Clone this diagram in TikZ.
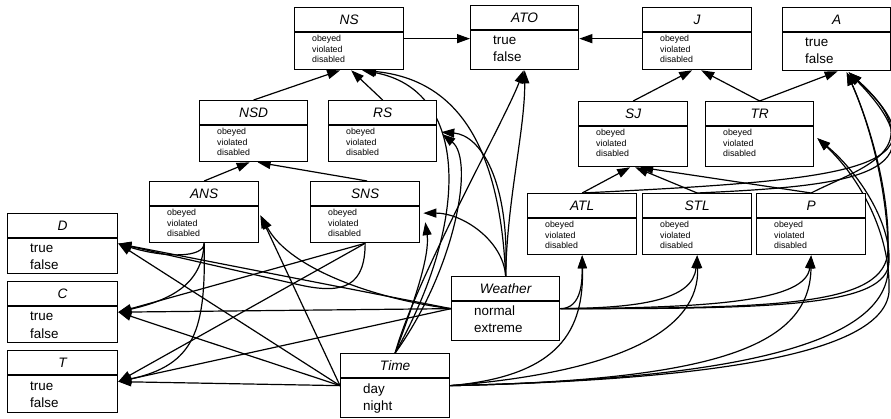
\documentclass[tikz,border=0pt]{standalone}
\usepackage{fontspec}
\setmainfont{Liberation Sans}
\usetikzlibrary{arrows.meta,calc}
\pgfdeclarelayer{background}
\pgfsetlayers{background,main}

\tikzset{
  vbox/.style={draw, line width=1.3pt, fill=white, inner sep=0pt, anchor=north west},
  sepline/.style={line width=1.3pt},
  titletext/.style={font=\fontsize{13.7}{16}\selectfont\itshape, inner sep=0pt, anchor=base},
  valtext/.style={font=\fontsize{13.4}{17}\selectfont, inner sep=0pt, anchor=base west},
  statetext/.style={font=\fontsize{8.8}{10.6}\selectfont, inner sep=0pt, anchor=base west},
  link/.style={line width=1.2pt, -{Triangle[length=13pt,width=9pt]}},
}

% variable with the three states obeyed / violated / disabled
% #1 name, #2 x, #3 y, #4 width, #5 height, #6 title
\newcommand\statebox[6]{%
  \node[vbox, minimum width=#4pt, minimum height=#5pt] (#1) at (#2,#3) {};
  \draw[sepline] ([yshift=-25pt]#1.north west) -- ([yshift=-25pt]#1.north east);
  \node[titletext] (#1-title) at ([yshift=-17.5pt]#1.north) {#6};
  \node[statetext] (#1-ob) at ([xshift=18pt,yshift=-34.5pt]#1.north west) {obeyed};
  \node[statetext] (#1-vi) at ([xshift=18pt,yshift=-45.1pt]#1.north west) {violated};
  \node[statetext] (#1-di) at ([xshift=18pt,yshift=-55.7pt]#1.north west) {disabled};
}
% variable with two values
% #1 name, #2 x, #3 y, #4 width, #5 height, #6 title, #7 #8 values
\newcommand\valuebox[8]{%
  \node[vbox, minimum width=#4pt, minimum height=#5pt] (#1) at (#2,#3) {};
  \draw[sepline] ([yshift=-25pt]#1.north west) -- ([yshift=-25pt]#1.north east);
  \node[titletext] (#1-title) at ([yshift=-17.5pt]#1.north) {#6};
  \node[valtext] (#1-va) at ([xshift=23pt,yshift=-40pt]#1.north west) {#7};
  \node[valtext] (#1-vb) at ([xshift=23pt,yshift=-57pt]#1.north west) {#8};
}

\begin{document}
\begin{tikzpicture}[x=1pt, y=-1pt]
\useasboundingbox (0,0) rectangle (891,419);

% top row
\statebox{NS}{294}{7}{109}{62}{NS}
\valuebox{ATO}{470}{5}{108}{64}{ATO}{true}{false}
\statebox{J}{642}{7}{109}{62}{J}
\valuebox{A}{782}{7}{108}{63}{A}{true}{false}
% second row
\statebox{NSD}{199}{100}{108}{61}{NSD}
\statebox{RS}{328}{100}{108}{61}{RS}
\statebox{SJ}{578}{101}{109}{65}{SJ}
\statebox{TR}{705}{101}{108}{65}{TR}
% third row
\statebox{ANS}{149}{181}{109}{61}{ANS}
\statebox{SNS}{310}{181}{109}{61}{SNS}
\statebox{ATL}{527}{193}{109}{61}{ATL}
\statebox{STL}{642}{193}{109}{61}{STL}
\statebox{P}{756}{193}{109}{61}{P}
% observations on the left
\valuebox{D}{7}{213}{110}{60}{D}{true}{false}
\valuebox{C}{7}{281}{110}{61}{C}{true}{false}
\valuebox{T}{7}{350}{110}{62}{T}{true}{false}
% context variables
\valuebox{Weather}{451}{276}{108}{64}{Weather}{normal}{extreme}
\valuebox{Time}{340}{353}{109}{64}{Time}{day}{night}

\begin{pgfonlayer}{background}
\fill[white] (0,0) rectangle (891,419);

% hierarchy of the rules
\draw[link] (NS.east) -- (NS.east -| ATO.west);
\draw[link] (J.west) -- (J.west -| ATO.east);
\draw[link] (NSD.north) -- ($(NS.south)+(-9,0)$);
\draw[link] (RS.north) -- ($(NS.south)+(2,0)$);
\draw[link] (ANS.north) -- ($(NSD.south)+(-4,0)$);
\draw[link] ($(SNS.north)+(2,0)$) -- ($(NSD.south)+(4,0)$);
\draw[link] (SJ.north) -- ($(J.south)+(-5,0)$);
\draw[link] (TR.north) -- ($(J.south)+(4,0)$);
\draw[link] (TR.north) -- ($(A.south)+(1,0)$);
\draw[link] (ATL.north) -- ($(SJ.south)+(-3,0)$);
\draw[link] (STL.north) -- ($(SJ.south)+(2,0)$);
\draw[link] (P.north) -- ($(SJ.south)+(7,0)$);

% ATL, STL, P into A round the right side
\draw[link] (ATL.north) .. controls (850,180) and (955,170) .. ($(A.south)+(12,1)$);
\draw[link] (STL.north) .. controls (850,186) and (950,176) .. ($(A.south)+(12,1)$);
\draw[link] (P.north) .. controls (860,168) and (935,150) .. ($(A.south)+(12,1)$);

% Weather and Time into A and TR along the right edge
\draw[link] (Weather.east) .. controls (780,308) and (886,306) .. (888,250)
  .. controls (890,190) and (868,120) .. ($(A.south)+(10,1)$);
\draw[link] (Weather.east) .. controls (780,309) and (887,306) .. (889,262)
  .. controls (891,222) and (858,172) .. ($(TR.east)+(3,4)$);
\draw[link] (Time.east) .. controls (700,380) and (881,352) .. (888,272)
  .. controls (891,195) and (868,120) .. ($(A.south)+(10,1)$);
\draw[link] (Time.east) .. controls (700,380) and (883,356) .. (889,292)
  .. controls (891,232) and (858,176) .. ($(TR.east)+(3,4)$);

% Weather and Time into ATL, STL, P
\draw[link] (Weather.east) to[out=0,in=-90] (ATL.south);
\draw[link] (Weather.east) .. controls (640,308) and (693,300) .. (STL.south);
\draw[link] (Weather.east) .. controls (720,308) and (806,300) .. (P.south);
\draw[link] (Time.east) .. controls (560,376) and (584,330) .. (ATL.south);
\draw[link] (Time.east) .. controls (620,372) and (700,330) .. (STL.south);
\draw[link] (Time.east) .. controls (720,380) and (810,345) .. (P.south);

% Weather and Time into the upper variables
\draw[link] (Weather.north) .. controls (507,200) and (525,130) .. (ATO.south);
\draw[link] (Time.north) .. controls (415,280) and (505,120) .. ($(ATO.south)+(-1,0)$);
\draw[link] (Weather.north) .. controls (500,150) and (460,80) .. ($(NS.south)+(14,0)$);
\draw[link] (Time.north) .. controls (470,220) and (470,90) .. ($(NS.south)+(13,0)$);
\draw[link] (Weather.north) .. controls (510,180) and (480,135) .. ($(RS.east)+(4,1)$);
\draw[link] (Time.north) .. controls (455,270) and (475,160) .. ($(RS.east)+(5,3)$);
\draw[link] (Weather.north) .. controls (503,240) and (462,213) .. ($(SNS.east)+(3,1)$);
\draw[link] (Time.north) .. controls (415,300) and (430,255) .. ($(SNS.east)+(5,10)$);
\draw[link] (Time.west) -- ($(ANS.east)+(1,3)$);
\draw[link] (Weather.west) .. controls (380,300) and (290,270) .. ($(ANS.east)+(2,4)$);

% into D, C, T
\draw[link] (Weather.west) -- (D.east);
\draw[link] (Weather.west) -- (C.east);
\draw[link] (Weather.west) -- (T.east);
\draw[link] (Time.west) -- (D.east);
\draw[link] (Time.west) -- (C.east);
\draw[link] (Time.west) -- (T.east);
\draw[link] (SNS.south) -- (C.east);
\draw[link] (SNS.south) -- (T.east);
\draw[link] (SNS.south) .. controls (365,285) and (345,295) .. (300,285) -- (D.east);
\draw[link] (ANS.south) .. controls (204,258) and (165,258) .. (D.east);
\draw[link] (ANS.south) .. controls (202,285) and (170,300) .. (C.east);
\draw[link] (ANS.south) .. controls (206,330) and (195,365) .. (T.east);
\end{pgfonlayer}
\end{tikzpicture}
\end{document}
